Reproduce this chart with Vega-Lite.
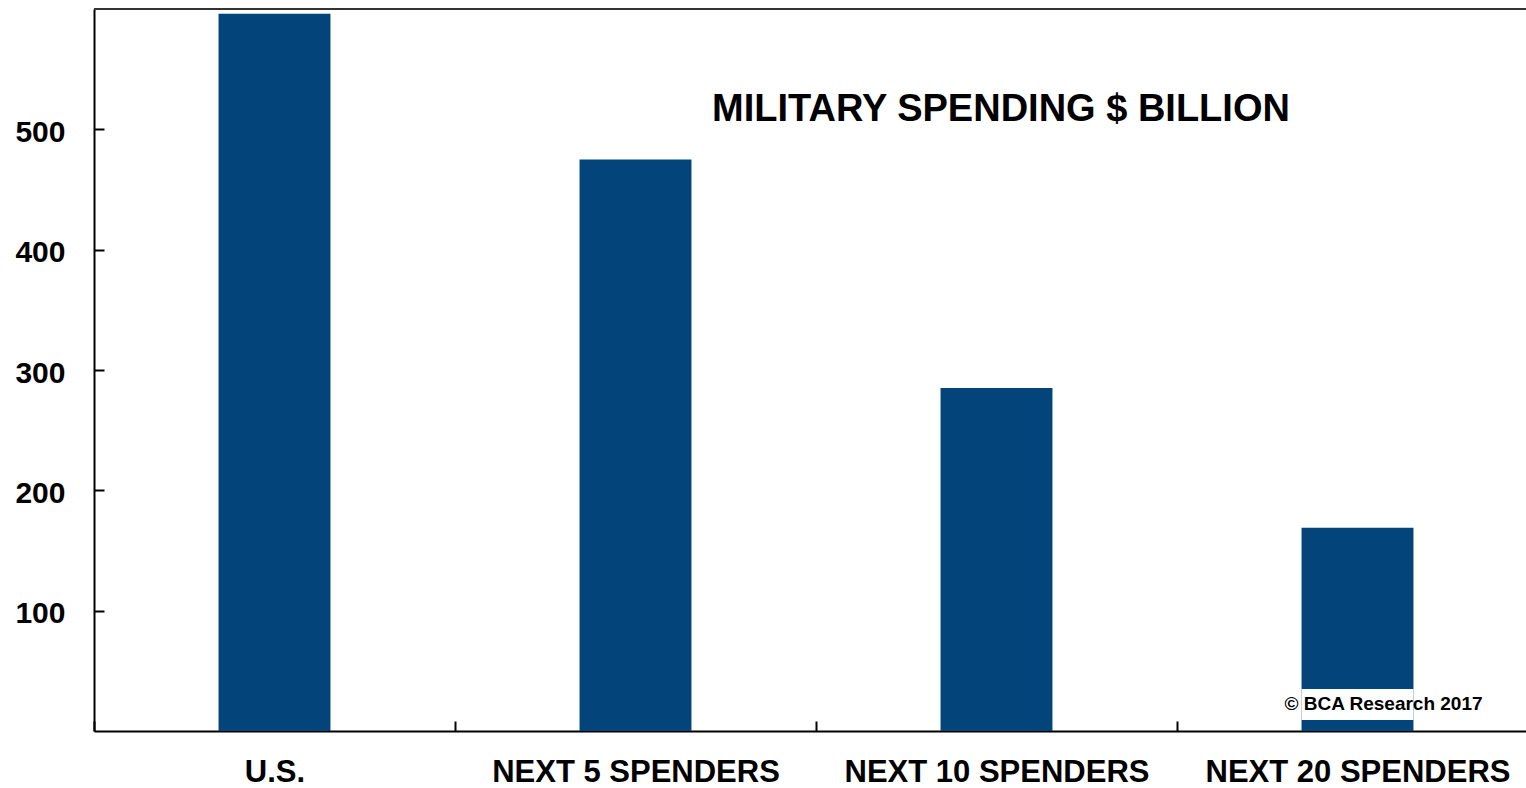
{
  "$schema": "https://vega.github.io/schema/vega-lite/v6.json",
  "autosize": {"type": "none"},
  "width": 1432,
  "height": 722,
  "padding": {"left": 94, "top": 9, "right": 0, "bottom": 57},
  "background": "white",
  "config": {
    "view": {"stroke": null},
    "font": "Liberation Sans",
    "axis": {"grid": false, "title": null, "domainColor": "#000000", "domainWidth": 2, "tickColor": "#000000", "tickWidth": 2, "labelFont": "Liberation Sans", "labelFontWeight": "bold", "labelColor": "#000000", "labelLimit": 0}
  },
  "layer": [
    {
      "data": {
        "values": [
          {"group": "U.S.", "spending": 596},
          {"group": "NEXT 5 SPENDERS", "spending": 475},
          {"group": "NEXT 10 SPENDERS", "spending": 285},
          {"group": "NEXT 20 SPENDERS", "spending": 169}
        ]
      },
      "mark": {"type": "bar", "color": "#03457a", "width": {"band": 0.31}},
      "encoding": {
        "x": {
          "field": "group",
          "type": "nominal",
          "sort": null,
          "scale": {"paddingInner": 0, "paddingOuter": 0, "range": [0, 1444]},
          "axis": {"labelAngle": 0, "labelFontSize": 31, "tickBand": "extent", "tickSize": -10, "labelPadding": 36, "labelBaseline": "top"}
        },
        "y": {
          "field": "spending",
          "type": "quantitative",
          "scale": {"domain": [0, 600], "nice": false},
          "axis": {"values": [100, 200, 300, 400, 500], "labelFontSize": 30, "tickSize": -10, "labelPadding": 39, "labelOffset": 3}
        }
      }
    },
    {
      "data": {"values": [{}]},
      "mark": {"type": "bar", "color": "white", "width": {"band": 0.31}},
      "encoding": {"x": {"datum": "NEXT 20 SPENDERS"}, "y": {"datum": 9.2}, "y2": {"datum": 35}}
    },
    {
      "data": {"values": [{}]},
      "mark": {"type": "text", "text": "© BCA Research 2017", "font": "Liberation Sans", "fontWeight": "bold", "fontSize": 19, "color": "#000000", "align": "center", "baseline": "alphabetic", "dx": 26},
      "encoding": {"x": {"datum": "NEXT 20 SPENDERS"}, "y": {"datum": 17.5}}
    },
    {
      "data": {"values": [{}]},
      "mark": {"type": "text", "text": "MILITARY SPENDING $ BILLION", "font": "Liberation Sans", "fontWeight": "bold", "fontSize": 38, "color": "#000000", "align": "center", "baseline": "alphabetic", "dx": 4.5},
      "encoding": {"x": {"datum": "NEXT 10 SPENDERS"}, "y": {"datum": 507}}
    },
    {
      "data": {"values": [{}]},
      "mark": {"type": "rule", "color": "#333333", "strokeWidth": 2},
      "encoding": {"y": {"datum": 600}}
    }
  ]
}
